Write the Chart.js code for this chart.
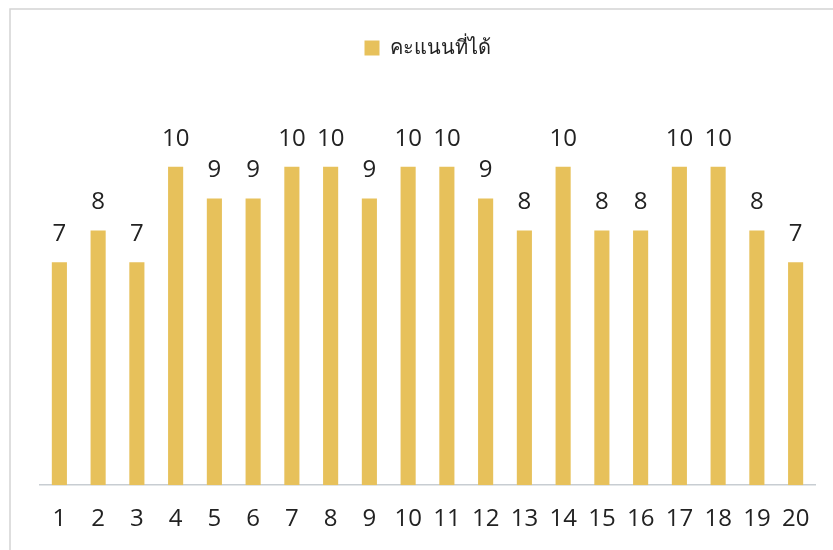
<!DOCTYPE html>
<html>
<head>
    <meta charset="utf-8">
    <title>คะแนนที่ได้</title>
    <script src="https://cdn.jsdelivr.net/npm/chart.js"></script>
    <style>
        body { margin: 0; background: #fff; }
        #wrap { width: 833px; height: 550px; }
    </style>
</head>
<body>
    <div id="wrap"><canvas id="myChart"></canvas></div>

    <script>
        // data
        var labels = ['1', '2', '3', '4', '5', '6', '7', '8', '9', '10',
                      '11', '12', '13', '14', '15', '16', '17', '18', '19', '20'];
        var scores = [7, 8, 7, 10, 9, 9, 10, 10, 9, 10, 10, 9, 8, 10, 8, 8, 10, 10, 8, 7];
        var seriesName = 'คะแนนที่ได้';

        var FONT = "'Open Sans', 'Noto Sans', 'Liberation Sans', sans-serif";

        // values printed above each bar
        var valueLabels = {
            id: 'valueLabels',
            afterDatasetsDraw: function (chart) {
                var ctx = chart.ctx;
                var meta = chart.getDatasetMeta(0);
                ctx.save();
                ctx.fillStyle = '#222';
                ctx.font = '24px ' + FONT;
                ctx.textAlign = 'center';
                ctx.textBaseline = 'middle';
                meta.data.forEach(function (bar, i) {
                    ctx.fillText(scores[i], bar.x, bar.y - 28);
                });
                ctx.restore();
            }
        };

        // thin grey frame on top and left, like the scanned page
        var frame = {
            id: 'frame',
            beforeDraw: function (chart) {
                var ctx = chart.ctx;
                ctx.save();
                ctx.strokeStyle = '#d4d4d4';
                ctx.lineWidth = 1.5;
                ctx.beginPath();
                ctx.moveTo(10, chart.height);
                ctx.lineTo(10, 9);
                ctx.lineTo(chart.width, 9);
                ctx.stroke();
                ctx.restore();
            }
        };

        var ctx = document.getElementById('myChart').getContext('2d');
        var myChart = new Chart(ctx, {
            type: 'bar',
            data: {
                labels: labels,
                datasets: [{
                    label: seriesName,
                    data: scores,
                    backgroundColor: '#e7c15b',
                    borderWidth: 0,
                    barPercentage: 0.39,
                    categoryPercentage: 1.0
                }]
            },
            options: {
                responsive: true,
                maintainAspectRatio: false,
                animation: false,
                layout: { padding: { left: 40, right: 18, top: 10, bottom: -4 } },
                plugins: {
                    legend: {
                        position: 'top',
                        labels: {
                            boxWidth: 15,
                            boxHeight: 15,
                            color: '#222',
                            font: { size: 20, family: FONT },
                            padding: 28
                        }
                    },
                    tooltip: { enabled: false }
                },
                scales: {
                    x: {
                        grid: { display: false, drawTicks: false },
                        border: { display: true, color: '#c8cdd2', width: 1.5 },
                        ticks: {
                            color: '#222',
                            font: { size: 24, family: FONT },
                            padding: 20
                        }
                    },
                    y: {
                        display: false,
                        min: 0,
                        max: 13.1
                    }
                }
            },
            plugins: [frame, valueLabels]
        });
    </script>
</body>
</html>
